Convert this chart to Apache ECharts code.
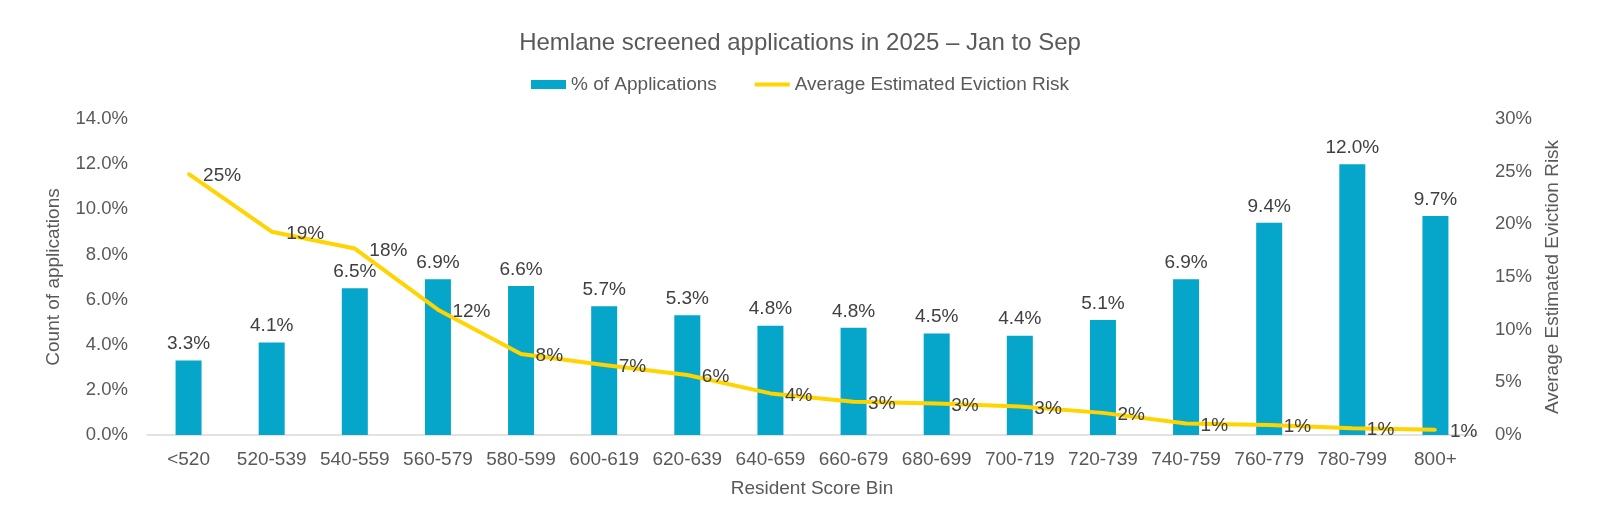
<!DOCTYPE html>
<html>
<head>
<meta charset="utf-8">
<script src="https://cdn.jsdelivr.net/npm/echarts@6/dist/echarts.min.js"></script>
<style>html,body{margin:0;padding:0;background:#fff;}#c{width:1600px;height:520px;}</style>
</head>
<body>
<div id="c"></div>
<script>
var categories = ['<520','520-539','540-559','560-579','580-599','600-619','620-639','640-659','660-679','680-699','700-719','720-739','740-759','760-779','780-799','800+'];
var pctApplications = [3.3, 4.1, 6.5, 6.9, 6.6, 5.7, 5.3, 4.84, 4.75, 4.5, 4.4, 5.1, 6.9, 9.4, 12.0, 9.7];
var evictionRisk = [24.8, 19.3, 17.7, 11.9, 7.7, 6.65, 5.7, 3.95, 3.15, 3.0, 2.7, 2.1, 1.1, 0.95, 0.65, 0.5];
var leftTicks = {min: 0, max: 14, interval: 2};
var rightTicks = {min: 0, max: 30, interval: 5};

var FONT = 'Liberation Sans, Arial, sans-serif';
var LINE_COLOR = '#FFD400';
var BAR_COLOR = '#05A6CA';
var chart = echarts.init(document.getElementById('c'), null, {renderer: 'canvas'});
chart.setOption({
  backgroundColor: '#ffffff',
  animation: false,
  textStyle: {fontFamily: FONT},
  title: {
    text: 'Hemlane screened applications in 2025 \u2013 Jan to Sep',
    left: 'center',
    top: 26,
    padding: [5, 0, 5, 8],
    textStyle: {fontSize: 24, fontWeight: 'normal', color: '#595959', fontFamily: FONT}
  },
  legend: {
    top: 70,
    left: 'center',
    padding: [5, 0, 5, 10],
    itemGap: 38,
    itemWidth: 35,
    itemHeight: 9,
    textStyle: {fontSize: 19, color: '#595959', fontFamily: FONT},
    data: [
      {name: '% of Applications', icon: 'rect'},
      {name: 'Average Estimated Eviction Risk', icon: 'path://M0,0L35,0L35,4L0,4Z', symbolKeepAspect: true,
       itemStyle: {color: LINE_COLOR}}
    ]
  },
  grid: {left: 147, right: 123, top: 119, bottom: 85},
  xAxis: {
    type: 'category',
    data: categories,
    name: 'Resident Score Bin',
    nameLocation: 'middle',
    nameGap: 44,
    nameTextStyle: {fontSize: 19, color: '#595959', fontFamily: FONT},
    axisLine: {show: true, lineStyle: {color: '#D9D9D9', width: 1.5}},
    axisTick: {show: false},
    axisLabel: {fontSize: 19, color: '#595959', margin: 15, interval: 0, fontFamily: FONT},
    splitLine: {show: false}
  },
  yAxis: [
    {
      type: 'value',
      min: leftTicks.min, max: leftTicks.max, interval: leftTicks.interval,
      name: 'Count of applications',
      nameLocation: 'middle',
      nameGap: 84,
      nameTextStyle: {fontSize: 19, color: '#595959', fontFamily: FONT},
      axisLine: {show: false},
      axisTick: {show: false},
      splitLine: {show: false},
      axisLabel: {fontSize: 18.5, color: '#595959', margin: 19, fontFamily: FONT,
        formatter: function (v) { return v.toFixed(1) + '%'; }}
    },
    {
      type: 'value',
      min: rightTicks.min, max: rightTicks.max, interval: rightTicks.interval,
      name: 'Average Estimated Eviction Risk',
      nameLocation: 'middle',
      nameGap: 64,
      nameRotate: 90,
      nameTextStyle: {fontSize: 19, color: '#595959', fontFamily: FONT},
      axisLine: {show: false},
      axisTick: {show: false},
      splitLine: {show: false},
      axisLabel: {fontSize: 18.5, color: '#595959', margin: 18, fontFamily: FONT,
        formatter: function (v) { return v + '%'; }}
    }
  ],
  series: [
    {
      name: '% of Applications',
      type: 'bar',
      yAxisIndex: 0,
      data: pctApplications,
      barWidth: 26,
      itemStyle: {color: BAR_COLOR},
      label: {show: true, position: 'top', distance: 7, fontSize: 19, color: '#404040', fontFamily: FONT,
        formatter: function (p) { return p.value.toFixed(1) + '%'; }}
    },
    {
      name: 'Average Estimated Eviction Risk',
      type: 'line',
      yAxisIndex: 1,
      data: evictionRisk,
      symbol: 'circle',
      symbolSize: 3,
      showSymbol: true,
      lineStyle: {color: LINE_COLOR, width: 4},
      itemStyle: {color: LINE_COLOR},
      label: {show: true, position: 'right', distance: 13, offset: [0, 2], fontSize: 19, color: '#404040', fontFamily: FONT,
        formatter: function (p) { return Math.round(p.value) + '%'; }},
      z: 3
    }
  ]
});
</script>
</body>
</html>
